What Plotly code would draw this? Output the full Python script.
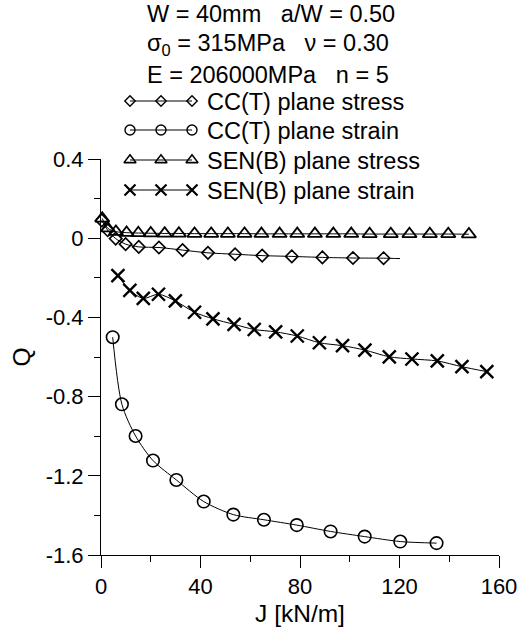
import plotly.graph_objects as go

# ---------------- data ----------------
cct_stress_J = [0.3, 2.7, 5.9, 9.9, 15.2, 23.3, 32.8, 43.0, 53.9, 64.8, 76.7, 89.0, 101.3, 113.6]
cct_stress_Q = [0.09, 0.04, -0.002, -0.030, -0.044, -0.047, -0.060, -0.074, -0.081, -0.088, -0.092, -0.097, -0.100, -0.101]
cct_stress_curve_end = (120.2, -0.103)   # fitted curve continues past last marker

cct_strain_J = [4.7, 8.4, 13.9, 20.9, 30.3, 41.3, 53.2, 65.5, 78.7, 92.3, 106.0, 120.3, 134.9]
cct_strain_Q = [-0.50, -0.839, -0.999, -1.123, -1.221, -1.330, -1.396, -1.422, -1.449, -1.481, -1.507, -1.532, -1.540]

senb_stress_J = [0.5, 2.7, 6.0, 10.3, 15.0, 20.0, 25.6, 31.3, 37.6, 44.3, 51.0, 57.7, 64.5, 71.8,
                 78.9, 86.0, 93.4, 100.6, 108.0, 116.5, 124.0, 132.2, 139.6, 147.9]
senb_stress_Q = [0.10, 0.05, 0.033, 0.028, 0.026, 0.025, 0.024, 0.024, 0.023, 0.023, 0.023, 0.023, 0.022, 0.022,
                 0.022, 0.022, 0.022, 0.022, 0.021, 0.021, 0.021, 0.021, 0.021, 0.020]

senb_strain_J = [6.8, 11.6, 17.0, 23.1, 29.9, 37.6, 45.0, 53.5, 61.6, 70.2, 78.9, 87.8, 97.1, 106.1,
                 115.9, 125.0, 135.2, 145.1, 155.1]
senb_strain_Q = [-0.189, -0.264, -0.304, -0.283, -0.317, -0.374, -0.407, -0.435, -0.461, -0.473, -0.494,
                 -0.528, -0.543, -0.565, -0.599, -0.610, -0.620, -0.649, -0.674]

series_names = ["CC(T) plane stress", "CC(T) plane strain", "SEN(B) plane stress", "SEN(B) plane strain"]
header_lines = [
    "W = 40mm\u00a0\u00a0\u00a0a/W = 0.50",
    "σ<sub>0</sub> = 315MPa\u00a0\u00a0\u00a0ν = 0.30",
    "E = 206000MPa\u00a0\u00a0\u00a0n = 5",
]
x_ticks = [0, 40, 80, 120, 160]
y_ticks = [0.4, 0, -0.4, -0.8, -1.2, -1.6]

# ---------------- layout geometry (window pixels) ----------------
W, H = 525, 633
PL, PR, PT, PB = 101, 499, 159, 555   # plot area in window pixels
FONT = "Liberation Sans, Arial, sans-serif"

def px_x(p):
    return p / W

def px_y(p):
    return (H - p) / H

symbols = ["diamond-open", "circle-open", "triangle-up-open", "x-thin-open"]
sizes = [9.5, 12.5, 12.5, 13]
mlw = [1.6, 1.6, 1.8, 2.4]

fig = go.Figure()

series = [
    (cct_stress_J, cct_stress_Q),
    (cct_strain_J, cct_strain_Q),
    (senb_stress_J, senb_stress_Q),
    (senb_strain_J, senb_strain_Q),
]

for i, (xs, ys) in enumerate(series):
    lx, ly = list(xs), list(ys)
    if i == 0:
        lx.append(cct_stress_curve_end[0])
        ly.append(cct_stress_curve_end[1])
    fig.add_trace(go.Scatter(x=lx, y=ly, mode="lines",
                             line=dict(color="black", width=1, shape="spline", smoothing=0.8),
                             showlegend=False, hoverinfo="skip"))
    fig.add_trace(go.Scatter(x=xs, y=ys, mode="markers", name=series_names[i],
                             marker=dict(symbol=symbols[i], size=sizes[i], color="black",
                                         line=dict(color="black", width=mlw[i])),
                             showlegend=False, cliponaxis=False))

# ---------------- custom legend (icons in a helper subplot) ----------------
leg_x0, leg_x1 = 118, 204
leg_y0, leg_y1 = 88, 202
icon_x = [130, 161, 192]
rows = [101, 130, 160, 190]
leg_sizes = [8, 10, 10.5, 11]
for i, r in enumerate(rows):
    fig.add_trace(go.Scatter(x=icon_x, y=[r] * 3, mode="lines+markers", xaxis="x2", yaxis="y2",
                             line=dict(color="black", width=1),
                             marker=dict(symbol=symbols[i], size=leg_sizes[i], color="black",
                                         line=dict(color="black", width=mlw[i] - 0.2)),
                             showlegend=False, hoverinfo="skip", cliponaxis=False))

TXT = 23.5
annotations = []
for i, r in enumerate(rows):
    annotations.append(dict(text=series_names[i], xref="paper", yref="paper",
                            x=px_x(205), y=px_y(r + 1), xanchor="left", yanchor="middle",
                            showarrow=False, font=dict(family=FONT, size=TXT, color="black")))
head_rows = [13, 43, 74]
for i, r in enumerate(head_rows):
    annotations.append(dict(text=header_lines[i], xref="paper", yref="paper",
                            x=px_x(145), y=px_y(r + 1), xanchor="left", yanchor="middle",
                            showarrow=False, font=dict(family=FONT, size=TXT, color="black")))

fig.update_layout(
    width=W, height=H,
    margin=dict(l=0, r=0, t=0, b=0),
    paper_bgcolor="white", plot_bgcolor="rgba(0,0,0,0)",
    font=dict(family=FONT, color="black", size=22),
    showlegend=False,
    xaxis=dict(domain=[px_x(PL), px_x(PR)], range=[0, 160], tickvals=x_ticks,
               showline=True, linecolor="black", linewidth=1, showgrid=False, zeroline=False,
               ticks="outside", ticklen=12, tickcolor="black", tickwidth=1,
               minor=dict(dtick=20, tick0=0, ticks="outside", ticklen=6, tickcolor="black", tickwidth=1, showgrid=False),
               tickfont=dict(size=22), automargin=False,
               title=dict(text="J [kN/m]", font=dict(size=24.5), standoff=6)),
    yaxis=dict(domain=[px_y(PB), px_y(PT)], range=[-1.6, 0.4], tickvals=y_ticks,
               ticktext=[("%g" % v) for v in y_ticks],
               showline=True, linecolor="black", linewidth=1, showgrid=False, zeroline=False,
               ticks="outside", ticklen=12, tickcolor="black", tickwidth=1,
               minor=dict(dtick=0.2, tick0=0, ticks="outside", ticklen=6, tickcolor="black", tickwidth=1, showgrid=False),
               tickfont=dict(size=22), automargin=False,
               title=dict(text="Q", font=dict(size=24.5), standoff=8)),
    xaxis2=dict(domain=[px_x(leg_x0), px_x(leg_x1)], range=[leg_x0, leg_x1], visible=False,
                anchor="y2", fixedrange=True),
    yaxis2=dict(domain=[px_y(leg_y1), px_y(leg_y0)], range=[leg_y1, leg_y0], visible=False,
                anchor="x2", fixedrange=True),
    annotations=annotations,
)

fig.write_html("out.html",
               config={"displayModeBar": False},
               post_script="document.body.style.margin='0';document.body.style.overflow='hidden';")
